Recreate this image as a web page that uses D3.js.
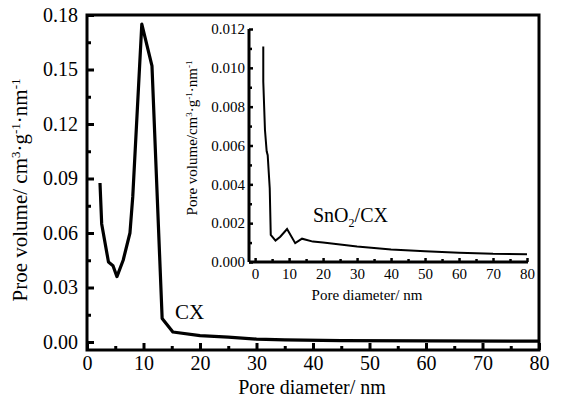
<!DOCTYPE html>
<html>
<head>
<meta charset="utf-8">
<script src="https://cdn.jsdelivr.net/npm/d3@7"></script>
<style>
  body { margin: 0; background: #fff; }
  svg { font-family: "Liberation Serif", "Times New Roman", serif; }
  .axis path.domain { display: none; }
  .axis line { stroke: #000; }
</style>
</head>
<body>
<svg width="562" height="408"></svg>
<script>
// CX (main plot), pore diameter in nm
var cxDiam = [2.3, 2.6, 3.8, 4.6, 5.3, 6.4, 7.6, 8.1, 9.7, 11.5, 13.3, 15.2, 20, 25, 30, 35, 45, 60, 80];
var cxVol  = [0.0875, 0.065, 0.044, 0.042, 0.036, 0.045, 0.06, 0.08, 0.175, 0.152, 0.013, 0.0055, 0.0035, 0.0027, 0.0016, 0.0012, 0.0008, 0.0006, 0.0005];

// SnO2/CX (inset)
var snDiam = [2.4, 2.4, 2.9, 3.4, 3.7, 4.3, 4.6, 6.0, 7.4, 9.4, 11.8, 13.8, 17, 20, 30, 40, 50, 60, 70, 80];
var snVol  = [0.0111, 0.0093, 0.0068, 0.0057, 0.0055, 0.0038, 0.0014, 0.0011, 0.0013, 0.0017, 0.00097, 0.0012, 0.00105, 0.001, 0.0008, 0.00065, 0.00055, 0.00048, 0.00042, 0.0004];

var xTicks = [0, 10, 20, 30, 40, 50, 60, 70, 80],
    xMinor = [5, 15, 25, 35, 45, 55, 65, 75],
    yTicks = [0, 0.03, 0.06, 0.09, 0.12, 0.15, 0.18],
    yMinor = [0.015, 0.045, 0.075, 0.105, 0.135, 0.165],
    ixTicks = xTicks,
    ixMinor = xMinor,
    iyTicks = [0, 0.002, 0.004, 0.006, 0.008, 0.010, 0.012],
    iyMinor = [0.001, 0.003, 0.005, 0.007, 0.009, 0.011];

var svg = d3.select("svg");

var x = d3.scaleLinear().domain([0, 80]).range([87, 539]),
    y = d3.scaleLinear().domain([-0.0044, 0.18]).range([350, 15]);

// frame
svg.append("rect")
    .attr("x", 87).attr("y", 15)
    .attr("width", 539 - 87).attr("height", 350 - 15)
    .attr("fill", "none").attr("stroke", "#000").attr("stroke-width", 3);

// main axes, ticks pointing inward
var gx = svg.append("g").attr("class", "axis")
    .attr("transform", "translate(0,350)")
    .call(d3.axisBottom(x).tickValues(xTicks).tickSize(-7).tickPadding(6).tickFormat(d3.format("d")));
gx.selectAll("line").attr("stroke-width", 3);
gx.selectAll("text").attr("font-size", 20).attr("fill", "#000").attr("font-family", "Liberation Serif");
svg.append("g").attr("class", "axis")
    .attr("transform", "translate(0,350)")
    .call(d3.axisBottom(x).tickValues(xMinor).tickSize(-4).tickFormat(""))
    .selectAll("line").attr("stroke-width", 3);

var gy = svg.append("g").attr("class", "axis")
    .attr("transform", "translate(87,0)")
    .call(d3.axisLeft(y).tickValues(yTicks).tickSize(-7).tickPadding(9).tickFormat(d3.format(".2f")));
gy.selectAll("line").attr("stroke-width", 3);
gy.selectAll("text").attr("font-size", 20).attr("fill", "#000").attr("font-family", "Liberation Serif");
svg.append("g").attr("class", "axis")
    .attr("transform", "translate(87,0)")
    .call(d3.axisLeft(y).tickValues(yMinor).tickSize(-4).tickFormat(""))
    .selectAll("line").attr("stroke-width", 3);

// main curve
var line = d3.line().x(function(d) { return x(d[0]); }).y(function(d) { return y(d[1]); });
svg.append("path")
    .datum(d3.zip(cxDiam, cxVol))
    .attr("d", line)
    .attr("fill", "none").attr("stroke", "#000").attr("stroke-width", 3.2)
    .attr("stroke-linejoin", "round");

// main labels
svg.append("text")
    .attr("x", 312).attr("y", 394)
    .attr("text-anchor", "middle").attr("font-size", 20)
    .text("Pore diameter/ nm");

var yl = svg.append("text")
    .attr("transform", "translate(27,190) rotate(-90)")
    .attr("text-anchor", "middle").attr("font-size", 21);
yl.append("tspan").text("Proe volume/ cm");
yl.append("tspan").attr("dy", -7).attr("font-size", 13).text("3");
yl.append("tspan").attr("dy", 7).text("·g");
yl.append("tspan").attr("dy", -7).attr("font-size", 13).text("-1");
yl.append("tspan").attr("dy", 7).text("·nm");
yl.append("tspan").attr("dy", -7).attr("font-size", 13).text("-1");

svg.append("text")
    .attr("x", 175).attr("y", 319)
    .attr("font-size", 21)
    .text("CX");

// inset
var ix = d3.scaleLinear().domain([-1.8, 80]).range([249, 527]),
    iy = d3.scaleLinear().domain([0, 0.012]).range([262, 29]);

var igx = svg.append("g").attr("class", "axis")
    .attr("transform", "translate(0,262)")
    .call(d3.axisBottom(ix).tickValues(ixTicks).tickSize(-4).tickPadding(6).tickFormat(d3.format("d")));
igx.selectAll("line").attr("stroke-width", 2.5);
igx.selectAll("text").attr("font-size", 15).attr("fill", "#000").attr("font-family", "Liberation Serif");
svg.append("g").attr("class", "axis")
    .attr("transform", "translate(0,262)")
    .call(d3.axisBottom(ix).tickValues(ixMinor).tickSize(-3).tickFormat(""))
    .selectAll("line").attr("stroke-width", 2.5);

var igy = svg.append("g").attr("class", "axis")
    .attr("transform", "translate(249,0)")
    .call(d3.axisLeft(iy).tickValues(iyTicks).tickSize(-4).tickPadding(4).tickFormat(d3.format(".3f")));
igy.selectAll("line").attr("stroke-width", 2.5);
igy.selectAll("text").attr("font-size", 15).attr("fill", "#000").attr("font-family", "Liberation Serif");
svg.append("g").attr("class", "axis")
    .attr("transform", "translate(249,0)")
    .call(d3.axisLeft(iy).tickValues(iyMinor).tickSize(-3).tickFormat(""))
    .selectAll("line").attr("stroke-width", 2.5);

// inset axis lines
svg.append("line")
    .attr("x1", ix(-1.8)).attr("x2", ix(80.3))
    .attr("y1", iy(0)).attr("y2", iy(0))
    .attr("stroke", "#000").attr("stroke-width", 3);
svg.append("line")
    .attr("x1", ix(-1.8)).attr("x2", ix(-1.8))
    .attr("y1", iy(0)).attr("y2", iy(0.012))
    .attr("stroke", "#000").attr("stroke-width", 3);

var iline = d3.line().x(function(d) { return ix(d[0]); }).y(function(d) { return iy(d[1]); });
svg.append("path")
    .datum(d3.zip(snDiam, snVol))
    .attr("d", iline)
    .attr("fill", "none").attr("stroke", "#000").attr("stroke-width", 2);

svg.append("text")
    .attr("x", 367).attr("y", 300)
    .attr("text-anchor", "middle").attr("font-size", 15)
    .text("Pore diameter/ nm");

var iyl = svg.append("text")
    .attr("transform", "translate(197,138) rotate(-90)")
    .attr("text-anchor", "middle").attr("font-size", 15);
iyl.append("tspan").text("Pore volume/cm");
iyl.append("tspan").attr("dy", -5).attr("font-size", 9).text("3");
iyl.append("tspan").attr("dy", 5).text("·g");
iyl.append("tspan").attr("dy", -5).attr("font-size", 9).text("-1");
iyl.append("tspan").attr("dy", 5).text("·nm");
iyl.append("tspan").attr("dy", -5).attr("font-size", 9).text("-1");

var sl = svg.append("text")
    .attr("x", 313).attr("y", 222)
    .attr("font-size", 20);
sl.append("tspan").text("SnO");
sl.append("tspan").attr("dy", 5).attr("font-size", 12).text("2");
sl.append("tspan").attr("dy", -5).text("/CX");
</script>
</body>
</html>
